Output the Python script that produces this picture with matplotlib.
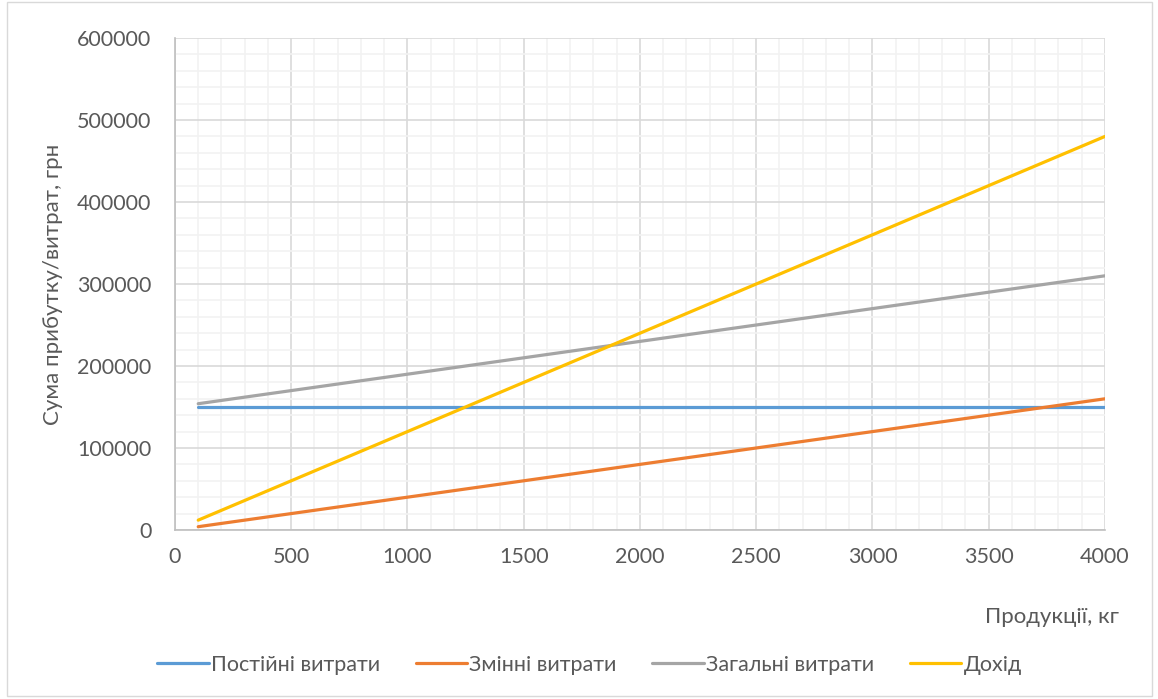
import matplotlib.pyplot as plt
from matplotlib.ticker import MultipleLocator

# Data
volume = [100, 500, 1000, 1500, 2000, 2500, 3000, 3500, 4000]
fixed_costs = [150000, 150000, 150000, 150000, 150000, 150000, 150000, 150000, 150000]
variable_costs = [4000, 20000, 40000, 60000, 80000, 100000, 120000, 140000, 160000]
total_costs = [154000, 170000, 190000, 210000, 230000, 250000, 270000, 290000, 310000]
revenue = [12000, 60000, 120000, 180000, 240000, 300000, 360000, 420000, 480000]

labels = ['Постійні витрати', 'Змінні витрати', 'Загальні витрати', 'Дохід']
colors = ['#5B9BD5', '#ED7D31', '#A5A5A5', '#FFC000']

plt.rcParams['font.family'] = ['Lato', 'DejaVu Sans']
text_color = '#595959'

fig = plt.figure(figsize=(11.58, 6.99), dpi=100)
ax = fig.add_axes([0.1511, 0.2418, 0.8031, 0.7038])

for series, label, color in zip([fixed_costs, variable_costs, total_costs, revenue], labels, colors):
    ax.plot(volume, series, color=color, linewidth=2.3, label=label, solid_capstyle='round')

ax.set_xlim(0, 4000)
ax.set_ylim(0, 600000)
ax.xaxis.set_major_locator(MultipleLocator(500))
ax.xaxis.set_minor_locator(MultipleLocator(100))
ax.yaxis.set_major_locator(MultipleLocator(100000))
ax.yaxis.set_minor_locator(MultipleLocator(20000))

ax.grid(which='major', color='#D9D9D9', linewidth=1.2)
ax.grid(which='minor', color='#F2F2F2', linewidth=1.2)
ax.set_axisbelow(True)

for side in ['top', 'right']:
    ax.spines[side].set_visible(False)
for side in ['left', 'bottom']:
    ax.spines[side].set_color('#BFBFBF')
    ax.spines[side].set_linewidth(1.2)

ax.tick_params(which='both', length=0, labelsize=15.5, colors=text_color)
ax.tick_params(axis='x', pad=12)
ax.tick_params(axis='y', pad=17)

ax.set_ylabel('Сума прибутку/витрат, грн', fontsize=16, color=text_color, labelpad=10)
fig.text(0.966, 0.117, 'Продукції, кг', fontsize=16, color=text_color, ha='right', va='center')

fig.legend(loc='center left', bbox_to_anchor=(0.119, 0.049), ncol=4, frameon=False,
           fontsize=15.5, labelcolor=text_color, handlelength=2.4, handletextpad=0.1,
           columnspacing=1.65)

# outer chart border
fig.patches.append(plt.Rectangle((0.006, 0.004), 0.989, 0.993, transform=fig.transFigure,
                                 fill=False, edgecolor='#D9D9D9', linewidth=1))

fig.savefig('out.png', dpi=100)
